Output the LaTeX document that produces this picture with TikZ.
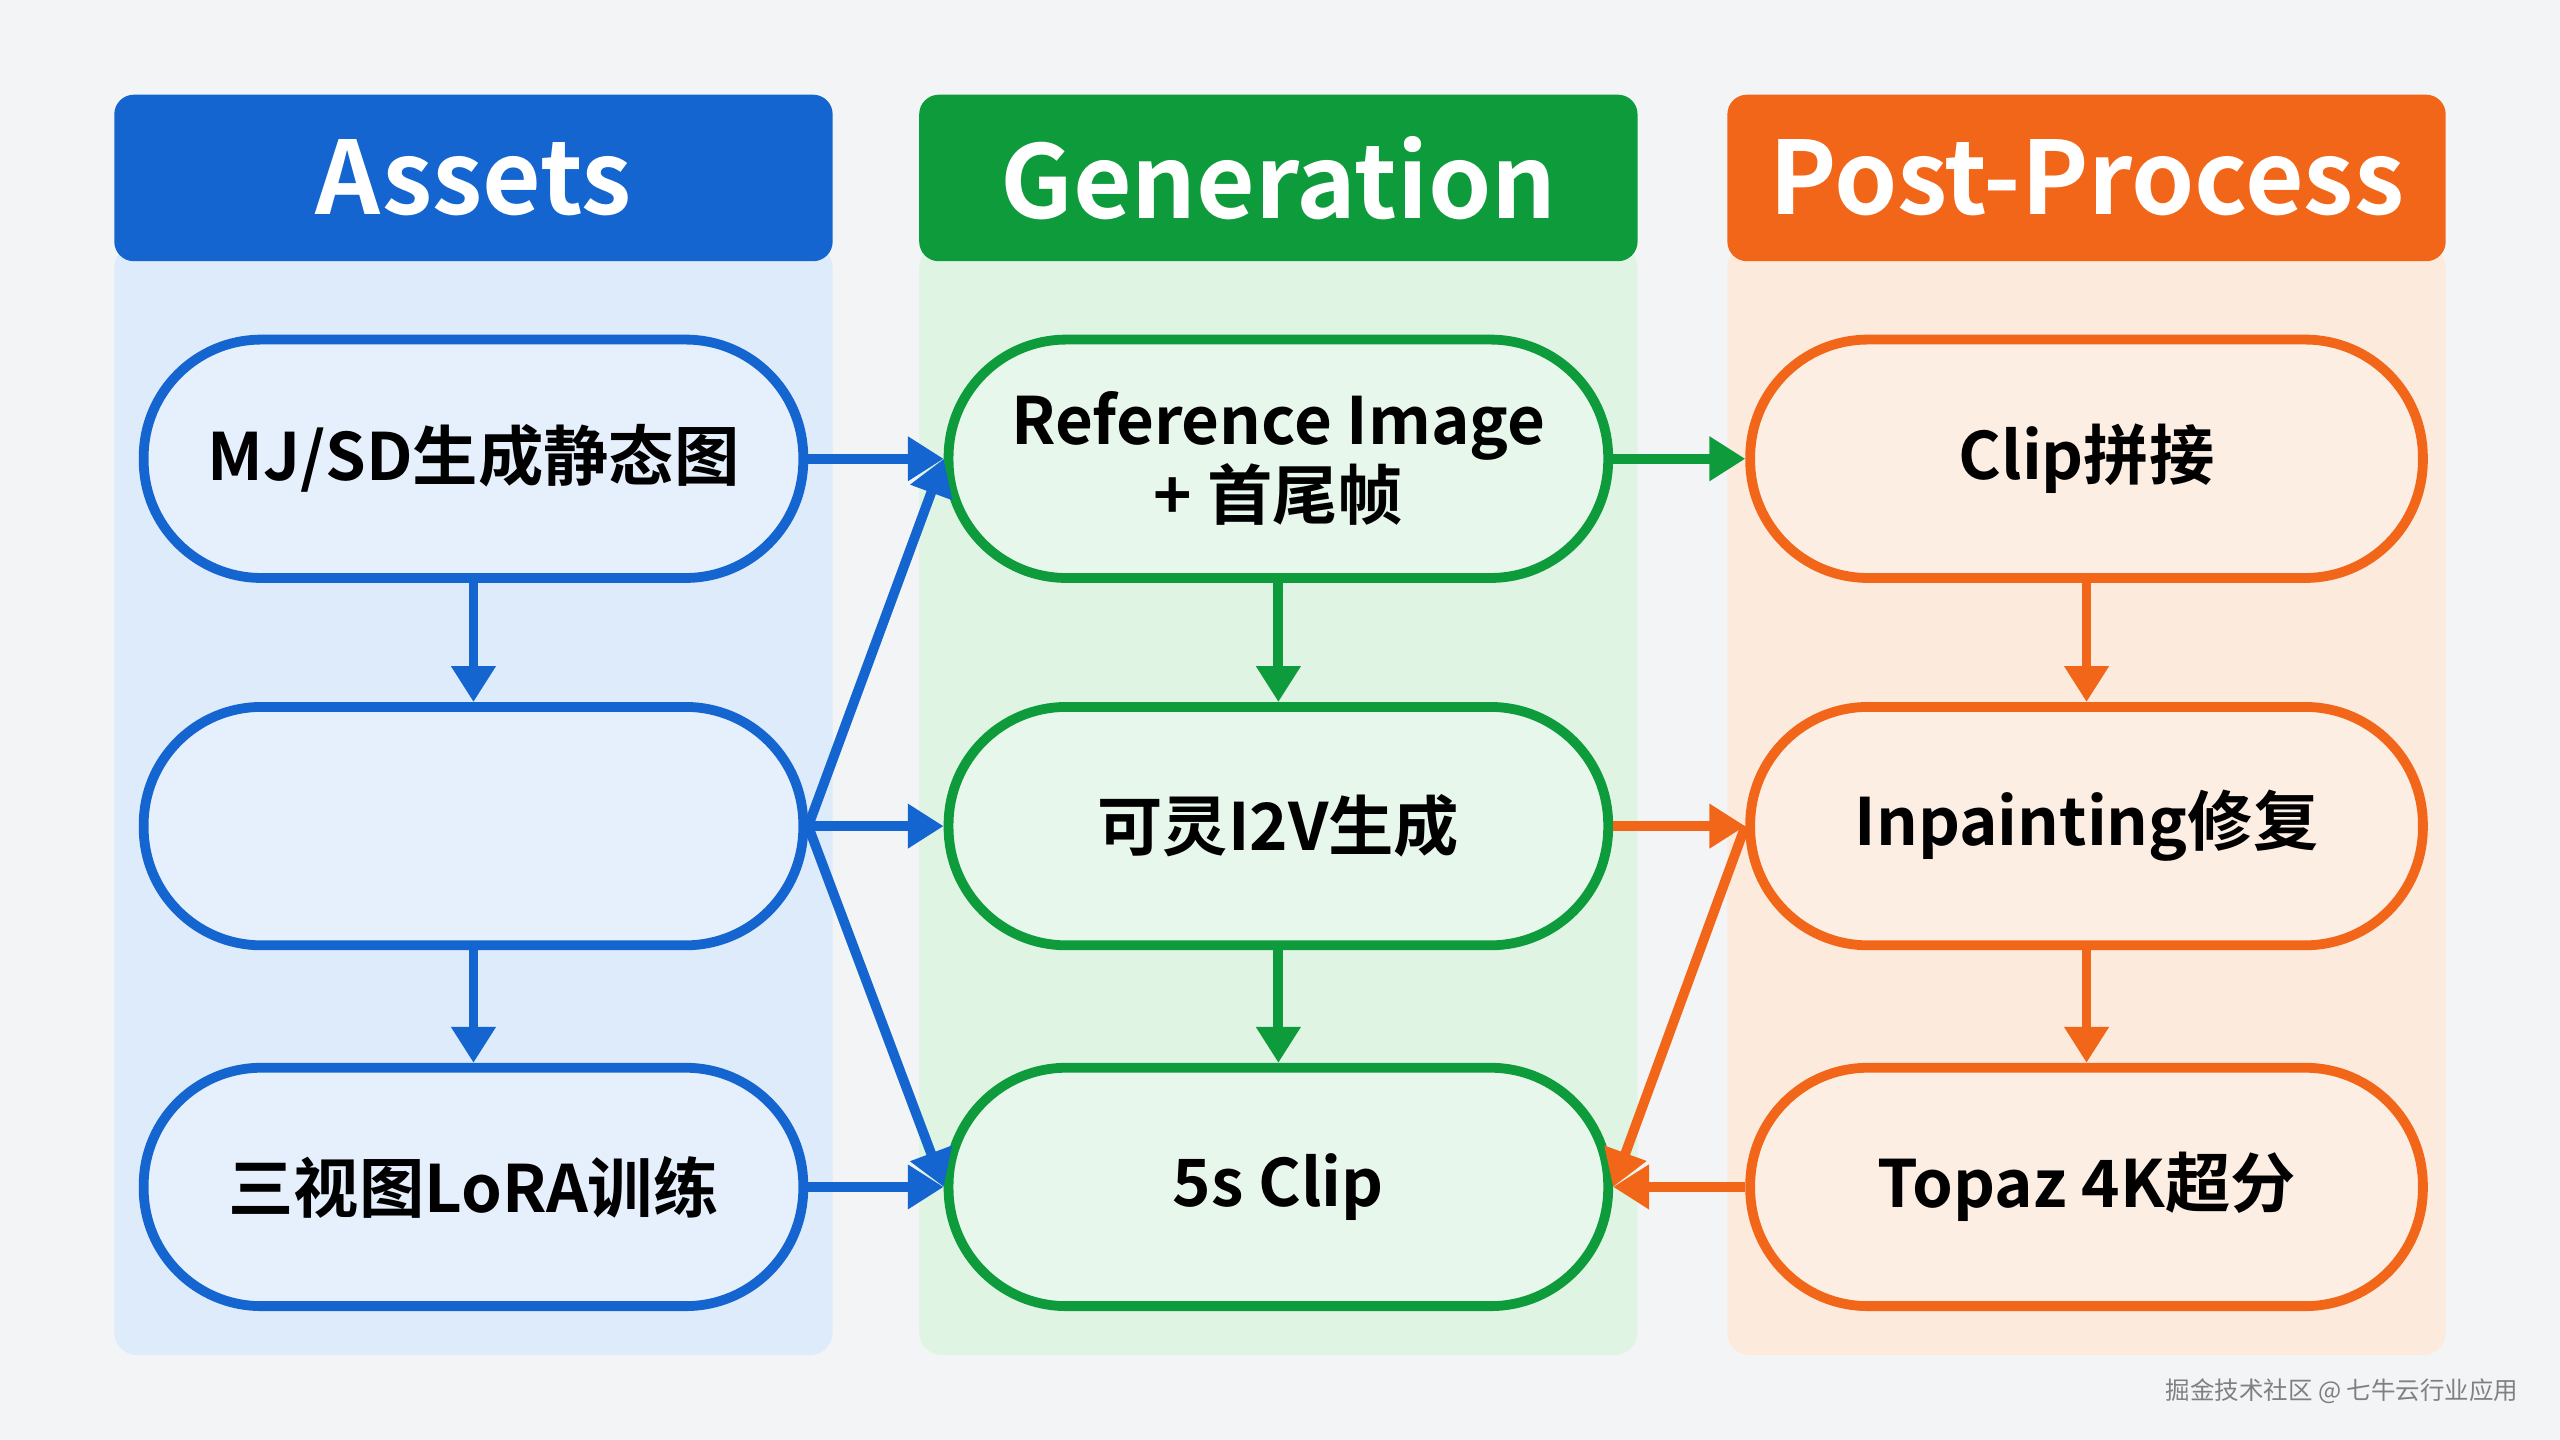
\documentclass[tikz,border=0pt]{standalone}
\usepackage{fontspec}
\setmainfont{Noto Sans CJK SC}[BoldFont={Noto Sans CJK SC Bold}]
\usetikzlibrary{positioning,arrows.meta}
\definecolor{cblue}{HTML}{1565D0}
\definecolor{cgreen}{HTML}{0E9B3C}
\definecolor{corange}{HTML}{F2661A}
\definecolor{bblue}{HTML}{DDEBFB}
\definecolor{bgreen}{HTML}{E0F4E4}
\definecolor{borange}{HTML}{FCEADD}
\definecolor{fblue}{HTML}{E6F0FC}
\definecolor{fgreen}{HTML}{E8F7EB}
\definecolor{forange}{HTML}{FDEEE3}
\definecolor{bgpage}{HTML}{F3F4F6}
\tikzset{
  header/.style={fill=#1, rounded corners=12pt, minimum width=440pt, minimum height=102pt,
    text=white, font=\fontsize{62}{62}\selectfont\bfseries},
  panel/.style={fill=#1, rounded corners=14pt, minimum width=440pt, minimum height=680pt},
  stage/.style={draw=#1, line width=6pt, rounded corners=72pt, minimum width=404pt,
    minimum height=146pt, align=center, font=\fontsize{40}{46}\selectfont\bfseries},
  flow/.style={draw=#1, line width=6pt, -{Triangle[length=22pt,width=26pt]}},
}
\begin{document}
\begin{tikzpicture}[x=1pt,y=-1pt]
  \fill[bgpage] (0,0) rectangle (1568,882);
  \useasboundingbox (0,0) rectangle (1568,882);
  % panels
  \node[panel=bblue] (pa) at (290,490) {};
  \node[panel=bgreen] (pg) at (783,490) {};
  \node[panel=borange] (pp) at (1278,490) {};
  \node[header=cblue] (ha) at (290,109) {Assets};
  \node[header=cgreen] (hg) at (783,109) {Generation};
  \node[header=corange] (hp) at (1278,109) {Post-Process};
  % assets
  \node[stage=cblue, fill=fblue] (mj) at (290,281) {MJ/SD生成静态图};
  \node[stage=cblue, fill=fblue] (blank) at (290,506) {};
  \node[stage=cblue, fill=fblue] (lora) at (290,727) {三视图LoRA训练};
  % generation
  \node[stage=cgreen, fill=fgreen] (ref) at (783,281) {Reference Image\\+ 首尾帧};
  \node[stage=cgreen, fill=fgreen] (i2v) at (783,506) {可灵I2V生成};
  \node[stage=cgreen, fill=fgreen] (clip) at (783,727) {5s Clip};
  % post-process
  \node[stage=corange, fill=forange, minimum width=412pt] (join) at (1278,281) {Clip拼接};
  \node[stage=corange, fill=forange, minimum width=412pt] (inp) at (1278,506) {Inpainting修复};
  \node[stage=corange, fill=forange, minimum width=412pt] (topaz) at (1278,727) {Topaz 4K超分};
  % connectors
  \draw[flow=cblue] (mj) -- (blank);
  \draw[flow=cblue] (blank) -- (lora);
  \draw[flow=cgreen] (ref) -- (i2v);
  \draw[flow=cgreen] (i2v) -- (clip);
  \draw[flow=corange] (join) -- (inp);
  \draw[flow=corange] (inp) -- (topaz);
  \draw[flow=cblue] (mj) -- (ref);
  \draw[flow=cblue] (blank.east) -- (ref.west);
  \draw[flow=cblue] (blank) -- (i2v);
  \draw[flow=cblue] (blank.east) -- (clip.west);
  \draw[flow=cblue] (lora) -- (clip);
  \draw[flow=cgreen] (ref) -- (join);
  \draw[flow=corange] (i2v) -- (inp);
  \draw[flow=corange] (topaz) -- (clip);
  \draw[flow=corange] (inp.west) -- (clip.east);
  \node[text=gray, font=\fontsize{15}{15}\selectfont, anchor=east] (wm) at (1546,852) {掘金技术社区 @ 七牛云行业应用};
\end{tikzpicture}
\end{document}
